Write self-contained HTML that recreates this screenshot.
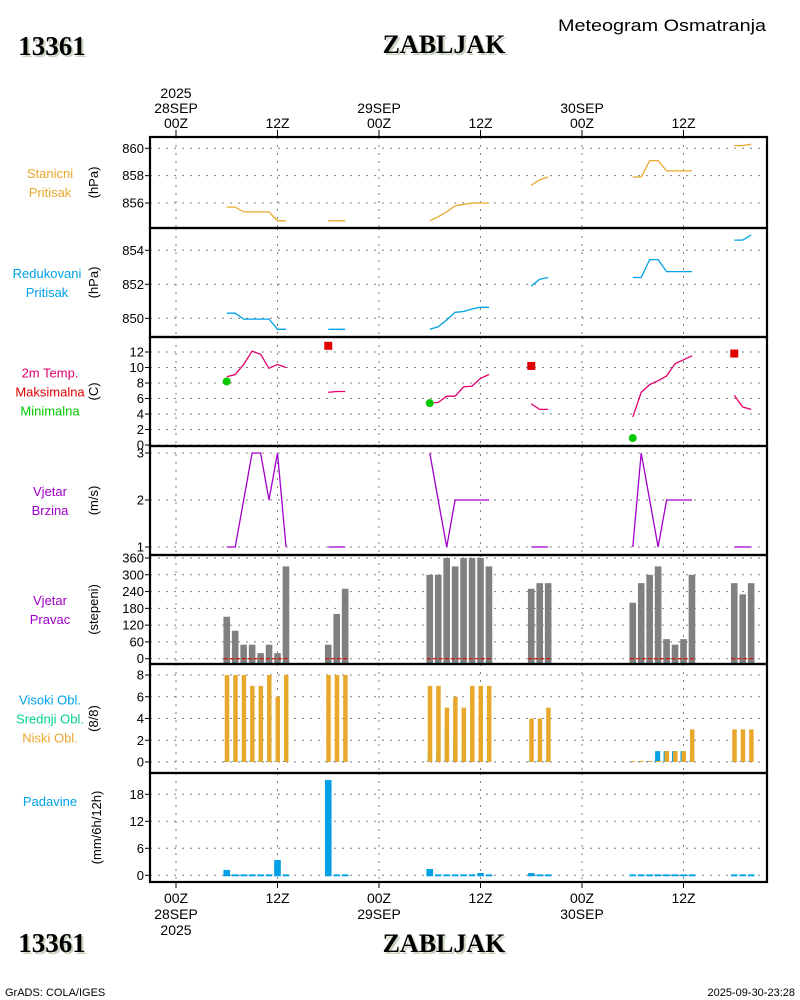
<!DOCTYPE html>
<html><head><meta charset="utf-8"><style>
html,body{margin:0;padding:0;background:#fff;width:800px;height:1000px;overflow:hidden}
svg{display:block}
text{font-family:"Liberation Sans",sans-serif}
</style></head><body>
<svg id="chart" width="800" height="1000" viewBox="0 0 800 1000" xmlns="http://www.w3.org/2000/svg">
<g id="static">
<text x="54" y="57" text-anchor="middle" font-weight="bold" font-size="27" fill="#c8d4c0" style="font-family:'Liberation Serif'">13361</text>
<text x="52" y="55" text-anchor="middle" font-weight="bold" font-size="27" fill="#000" style="font-family:'Liberation Serif'">13361</text>
<text x="446" y="55" text-anchor="middle" font-weight="bold" font-size="26" fill="#c8d4c0" style="font-family:'Liberation Serif'">ZABLJAK</text>
<text x="444" y="53" text-anchor="middle" font-weight="bold" font-size="26" fill="#000" style="font-family:'Liberation Serif'">ZABLJAK</text>
<text x="558" y="31" textLength="208" lengthAdjust="spacingAndGlyphs" font-size="17" fill="#000">Meteogram Osmatranja</text>
<text x="54" y="954" text-anchor="middle" font-weight="bold" font-size="27" fill="#c8d4c0" style="font-family:'Liberation Serif'">13361</text>
<text x="52" y="952" text-anchor="middle" font-weight="bold" font-size="27" fill="#000" style="font-family:'Liberation Serif'">13361</text>
<text x="446" y="954" text-anchor="middle" font-weight="bold" font-size="26" fill="#c8d4c0" style="font-family:'Liberation Serif'">ZABLJAK</text>
<text x="444" y="952" text-anchor="middle" font-weight="bold" font-size="26" fill="#000" style="font-family:'Liberation Serif'">ZABLJAK</text>
<text x="5" y="996" font-size="11" fill="#000">GrADS: COLA/IGES</text>
<text x="795" y="996" text-anchor="end" font-size="11" fill="#000">2025-09-30-23:28</text>
</g>
</svg>
<script>
const hours=[6,7,8,9,10,11,12,13,18,19,20,30,31,32,33,34,35,36,37,42,43,44,54,55,56,57,58,59,60,61,66,67,68];
const stationP=[855.7,855.7,855.35,855.35,855.35,855.35,854.7,854.7,854.7,854.7,854.7,854.7,855.0,855.35,855.8,855.9,856,856,856,857.3,857.7,857.9,857.9,857.9,859.1,859.1,858.35,858.35,858.35,858.35,860.2,860.2,860.3];
const seaP=[850.3,850.3,849.95,849.95,849.95,849.95,849.35,849.35,849.35,849.35,849.35,849.35,849.5,849.9,850.35,850.4,850.55,850.65,850.65,851.9,852.3,852.4,852.4,852.4,853.45,853.45,852.75,852.75,852.75,852.75,854.6,854.6,854.9];
const temp=[8.8,9.1,10.4,12.1,11.7,9.9,10.4,10,6.8,6.9,6.9,5.4,5.5,6.3,6.3,7.5,7.6,8.6,9.1,5.3,4.6,4.6,3.6,6.8,7.8,8.3,8.9,10.5,11,11.5,6.4,4.9,4.6];
const maxHours=[18,42,66];const maxT=[12.8,10.2,11.8];
const minHours=[6,30,54];const minT=[8.2,5.4,0.9];
const windSpd=[1,1,2,3,3,2,3,1,1,1,1,3,2,1,2,2,2,2,2,1,1,1,1,3,2,1,2,2,2,2,1,1,1];
const windDir=[150,100,50,50,20,50,20,330,50,160,250,300,300,360,330,360,360,360,330,250,270,270,200,270,300,330,70,50,70,300,270,230,270];
const highCl=[0,0,0,0,0,0,0,0,0,0,0,0,0,0,0,0,0,0,0,0,0,0,0,0,0,1,1,1,1,0,0,0,0];
const midCl=[0,0,0,0,0,0,2,0,0,0,0,1,1,3,2,2,0,0,0,0,0,0,0,0,0,0,0,0,0,1,0,0,0];
const lowCl=[8,8,8,7,7,8,6,8,8,8,8,7,7,5,6,5,7,7,7,4,4,5,0,0,0,0,1,1,1,3,3,3,3];
const precip=[1.2,0.2,0.2,0.2,0.2,0.2,3.4,0.2,21.2,0.2,0.2,1.4,0.2,0.2,0.2,0.2,0.2,0.5,0.2,0.5,0.2,0.2,0.2,0.2,0.2,0.2,0.2,0.2,0.2,0.2,0.2,0.2,0.2];
const p1Ticks=[856,858,860],p2Ticks=[850,852,854],tTicks=[0,2,4,6,8,10,12],wsTicks=[1,2,3],wdTicks=[0,60,120,180,240,300,360],clTicks=[0,2,4,6,8],prTicks=[0,6,12,18];
const timeTicks=[0,12,24,36,48,60];

const NS='http://www.w3.org/2000/svg';const svg=document.getElementById('chart');
function el(t,a,p){const e=document.createElementNS(NS,t);for(const k in a)e.setAttribute(k,a[k]);(p||svg).appendChild(e);return e;}
const X0=150,X1=767;
const x=h=>176+h*(101.5/12);
function lin(v0,y0,v1,y1){return v=>y0+(v-v0)*(y1-y0)/(v1-v0);}
const panels=[
 {top:137,bot:228,y:lin(860,148.3,856,203),ticks:p1Ticks,name:['Stanicni','Pritisak'],col:['#e8a82c','#e8a82c'],unit:'(hPa)'},
 {top:228,bot:337,y:lin(854,250.3,850,318.3),ticks:p2Ticks,name:['Redukovani','Pritisak'],col:['#00a0e6','#00a0e6'],unit:'(hPa)'},
 {top:337,bot:446,y:lin(12,352,0,445),ticks:tTicks,name:['2m Temp.','Maksimalna','Minimalna'],col:['#e0006e','#e00000','#00c800'],unit:'(C)'},
 {top:446,bot:555,y:lin(3,453,1,547),ticks:wsTicks,name:['Vjetar','Brzina'],col:['#a000c8','#a000c8'],unit:'(m/s)'},
 {top:555,bot:664,y:lin(360,558,0,658.7),ticks:wdTicks,name:['Vjetar','Pravac'],col:['#a000c8','#a000c8'],unit:'(stepeni)'},
 {top:664,bot:773,y:lin(8,675,0,762),ticks:clTicks,name:['Visoki Obl.','Srednji Obl.','Niski Obl.'],col:['#00a0e6','#00d48c','#e8a82c'],unit:'(8/8)'},
 {top:773,bot:882,y:lin(18,794.3,0,875.3),ticks:prTicks,name:['Padavine'],col:['#00a0e6'],unit:'(mm/6h/12h)'}];
const slugs=['station-pressure','sea-level-pressure','temperature','wind-speed','wind-direction','cloud-cover','precipitation'];
panels.forEach((p,i)=>{
 const g=el('g',{});
 
 
 p.g=g;
 timeTicks.forEach(t=>{const l=el('line',{x1:x(t),x2:x(t),y1:p.top,y2:p.bot,stroke:'#808080','stroke-dasharray':'2,6'},g);
  });
 p.ticks.forEach(v=>{const yy=p.y(v);
  const l=el('line',{x1:X0,x2:X1,y1:yy,y2:yy,stroke:'#808080','stroke-dasharray':'2,6'},g);
  
  el('line',{x1:X0-5,x2:X0,y1:yy,y2:yy,stroke:'#000'},g);
  const t=el('text',{x:X0-6,y:yy+4.5,'text-anchor':'end','font-size':'13',fill:'#000'},g);t.textContent=v;
  });
 const cy=(p.top+p.bot)/2;
 const u=el('text',{x:0,y:0,'text-anchor':'middle','font-size':'13',fill:'#000',transform:`translate(${i==6?101:98},${cy}) rotate(-90)`},g);u.textContent=p.unit;
 
 const n=p.name.length,off=i==6?(p.top+28):cy-(n-1)*9.5;
 p.name.forEach((s,k)=>{const t=el('text',{x:i==1?47:50,y:off+k*19+5,'text-anchor':'middle','font-size':'13',fill:p.col[k]},g);t.textContent=s;
  });
});
function segs(vals){const out=[];let cur=[];hours.forEach((h,k)=>{if(k>0&&h-hours[k-1]>1){out.push(cur);cur=[];}cur.push([x(h),vals[k]]);});out.push(cur);return out;}
function lines(p,vals,col,nm){segs(vals).forEach(s=>{const d=s.map((q,k)=>(k?'L':'M')+q[0].toFixed(1)+' '+p.y(q[1]).toFixed(1)).join(' ');
 const e=el('path',{d:d,fill:'none',stroke:col,'stroke-width':1.3},p.g);});}
lines(panels[0],stationP,'#e8a82c','station-pressure-line');
lines(panels[1],seaP,'#00a0e6','sea-level-pressure-line');
lines(panels[2],temp,'#e0006e','temperature-line');
maxHours.forEach((h,k)=>{const r=el('rect',{x:x(h)-4,y:panels[2].y(maxT[k])-4,width:8,height:8,fill:'#e00000'},panels[2].g);
 });
minHours.forEach((h,k)=>{const c=el('circle',{cx:x(h),cy:panels[2].y(minT[k]),r:4,fill:'#00c800'},panels[2].g);
 });
lines(panels[3],windSpd,'#a000c8','wind-speed-line');
hours.forEach((h,k)=>{const p=panels[4],y0=p.y(0),y1=p.y(windDir[k]);
 const r=el('rect',{x:x(h)-3.3,y:y1,width:6.6,height:y0-y1+5,fill:'#808080'},p.g);
 });
segs(windDir).forEach(s=>{const p=panels[4];const l=el('line',{x1:s[0][0]-3,x2:s[s.length-1][0]+3,y1:p.y(0),y2:p.y(0),stroke:'#e00000','stroke-dasharray':'4,2','stroke-width':1.2},p.g);
 });
hours.forEach((h,k)=>{const p=panels[5],y0=p.y(0);
 [[highCl,'#00a0e6',-3,5,'high-cloud-bar'],[midCl,'#00d48c',-2,4,'mid-cloud-bar'],[lowCl,'#e8a82c',-2,4.5,'low-cloud-bar']].forEach(c=>{
  const v=c[0][k];const yy=p.y(v);
  const r=el('rect',{x:x(h)+c[2],y:Math.min(yy,y0-1),width:c[3],height:Math.max(y0-yy,1),fill:c[1]},p.g);
  });});
hours.forEach((h,k)=>{const p=panels[6],y0=p.y(0),yy=p.y(precip[k]);
 const r=el('rect',{x:x(h)-3.3,y:yy,width:6.6,height:y0-yy+1,fill:'#00a0e6'},p.g);
 });
panels.forEach(p=>{el('rect',{x:X0,y:p.top,width:X1-X0,height:p.bot-p.top,fill:'none',stroke:'#000','stroke-width':2.2});});
const topLab=[['2025','28SEP','00Z'],['12Z'],['29SEP','00Z'],['12Z'],['30SEP','00Z'],['12Z']];
const botLab=[['00Z','28SEP','2025'],['12Z'],['00Z','29SEP'],['12Z'],['00Z','30SEP'],['12Z']];
timeTicks.forEach((t,k)=>{const xx=x(t);
 el('line',{x1:xx,x2:xx,y1:130,y2:137,stroke:'#000'});el('line',{x1:xx,x2:xx,y1:882,y2:888,stroke:'#000'});
 const tl=topLab[k];tl.forEach((s,j)=>{const e=el('text',{x:xx,y:128-(tl.length-1-j)*15,'text-anchor':'middle','font-size':'14',fill:'#000'});e.textContent=s;
  });
 botLab[k].forEach((s,j)=>{const e=el('text',{x:xx,y:903+j*16,'text-anchor':'middle','font-size':'14',fill:'#000'});e.textContent=s;
  });
});
</script>
</body></html>
